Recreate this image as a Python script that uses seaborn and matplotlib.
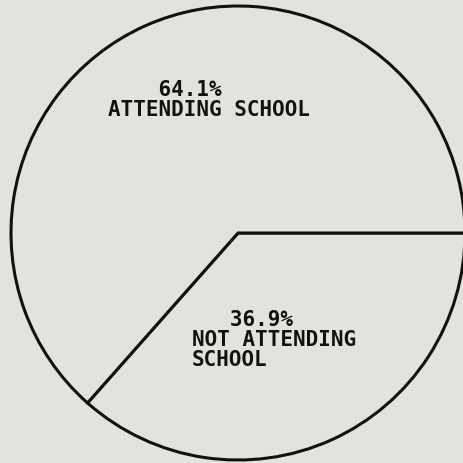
import matplotlib
matplotlib.use("Agg")
import matplotlib.pyplot as plt
import seaborn as sns

# school attendance shares (percent)
groups = ["NOT ATTENDING\nSCHOOL", "ATTENDING SCHOOL"]
shares = [36.9, 64.1]

BG = "#e3e3dd"
INK = "#111111"

sns.set_style("white")
plt.rcParams["font.family"] = ["DejaVu Sans Mono", "DejaVu Sans"]

fig = plt.figure(figsize=(4.64, 4.63), dpi=100, facecolor=BG)
ax = fig.add_axes([0, 0, 1, 1])
ax.set_facecolor(BG)

ax.pie(shares, startangle=0, counterclock=False, radius=1.0,
       colors=[BG, BG],
       wedgeprops=dict(edgecolor=INK, linewidth=2.2))

# pixel layout: circle centre (238, 233), radius ~227 px
scale = 227.0
ax.set_xlim(-238 / scale, (464 - 238) / scale)
ax.set_ylim(-(463 - 233) / scale, 233 / scale)
ax.set_aspect("auto")
ax.axis("off")

def px(x, y):
    return (x - 238) / scale, (233 - y) / scale

# plotter-style labels, monospace with leading spaces for the percent line
label_pos = {"ATTENDING SCHOOL": (108, 80, 4), "NOT ATTENDING\nSCHOOL": (192, 310, 3)}
for name, val in zip(groups, shares):
    x, y, indent = label_pos[name]
    tx, ty = px(x, y)
    ax.text(tx, ty, " " * indent + f"{val:.1f}%\n" + name,
            ha="left", va="top", fontsize=15, fontweight="bold",
            color=INK, linespacing=1.0)

fig.savefig("out.png", dpi=100, facecolor=BG)
